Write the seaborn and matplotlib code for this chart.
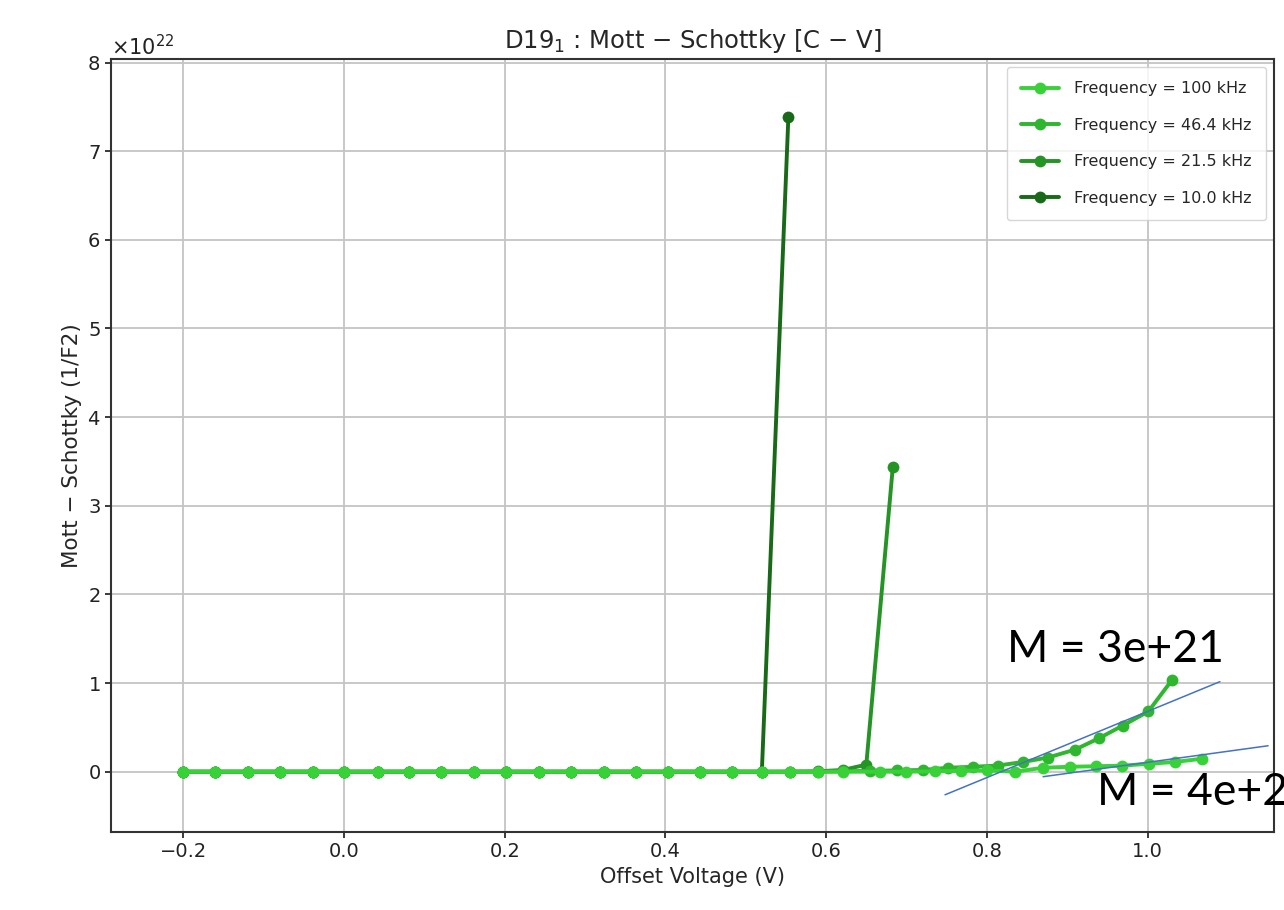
import numpy as np
import pandas as pd
import matplotlib
matplotlib.use('Agg')
import matplotlib.pyplot as plt
import seaborn as sns

# values, Mott-Schottky in units of 1e22 (1/F2)
SCALE = 1e22

v_base = [-0.2, -0.16, -0.119, -0.079, -0.039, 0.0, 0.042, 0.081, 0.121, 0.162,
          0.202, 0.243, 0.283, 0.323, 0.364, 0.403, 0.443, 0.483, 0.52]
ms_base = [0.0, 0.0, 0.0, 0.0, 0.0, 0.0, 0.0, 0.0, 0.0, 0.0,
           0.0, 0.0, 0.0, 0.0, 0.0, 0.0, 0.0, 0.0, 0.0]

v_100k = v_base + [0.555, 0.590, 0.621, 0.667, 0.700, 0.735, 0.768, 0.800,
                   0.835, 0.870, 0.904, 0.936, 0.968, 1.002, 1.034, 1.068]
ms_100k = ms_base + [0.0, 0.0, 0.0, 0.0, 0.0, 0.005, 0.01, 0.015,
                     0.0, 0.045, 0.056, 0.062, 0.068, 0.09, 0.11, 0.147]

v_46k = v_base + [0.555, 0.590, 0.621, 0.655, 0.688, 0.720, 0.752, 0.783,
                  0.814, 0.845, 0.876, 0.910, 0.940, 0.969, 1.001, 1.030]
ms_46k = ms_base + [0.0, 0.0, 0.005, 0.01, 0.015, 0.02, 0.045, 0.056,
                    0.07, 0.11, 0.16, 0.25, 0.38, 0.52, 0.68, 1.03]

v_21k = v_base + [0.555, 0.590, 0.621, 0.650, 0.683]
ms_21k = ms_base + [0.002, 0.005, 0.02, 0.08, 3.44]

v_10k = v_base + [0.553]
ms_10k = ms_base + [7.38]

labels = ['Frequency = 100 kHz', 'Frequency = 46.4 kHz',
          'Frequency = 21.5 kHz', 'Frequency = 10.0 kHz']
colors = ['#38d238', '#2eb62e', '#249424', '#186a18']

# hand-drawn slope lines (data coords) and their notes
fit_hi_v = [0.748, 1.090]
fit_hi_ms = [-0.26, 1.016]
fit_lo_v = [0.870, 1.150]
fit_lo_ms = [-0.056, 0.293]
notes = ['M = 3e+21', 'M = 4e+21']
note_v = [0.825, 0.937]
note_ms = [1.24, -0.37]

series = [(v_100k, ms_100k), (v_46k, ms_46k), (v_21k, ms_21k), (v_10k, ms_10k)]
frames = []
for lab, (v, ms) in zip(labels, series):
    frames.append(pd.DataFrame({'v': v, 'ms': np.array(ms) * SCALE, 'freq': lab}))
data = pd.concat(frames, ignore_index=True)

sns.set_theme(style='ticks')
plt.rcParams['font.family'] = ['DejaVu Sans']

fig = plt.figure(figsize=(12.84, 9.10), dpi=100)
ax = fig.add_axes([0.0864, 0.0857, 0.9056, 0.8495])

# lighter curves on top, legend keeps 100 kHz first
for i, lab in enumerate(labels):
    sub = data[data['freq'] == lab]
    sns.lineplot(data=sub, x='v', y='ms', ax=ax, color=colors[i], label=lab,
                 marker='o', markersize=8.5, markeredgewidth=0, linewidth=2.8,
                 sort=False, estimator=None, zorder=10 - i)

ax.plot(fit_hi_v, np.array(fit_hi_ms) * SCALE, color='#4472c4', lw=1.1, zorder=12)
ax.plot(fit_lo_v, np.array(fit_lo_ms) * SCALE, color='#4472c4', lw=1.1, zorder=12)
for t, x, y in zip(notes, note_v, note_ms):
    ax.text(x, y * SCALE, t, fontsize=32, family=['Lato', 'DejaVu Sans'],
            color='black', clip_on=False, zorder=13)

ax.set_xlim(-0.29, 1.157)
ax.set_ylim(-0.68 * SCALE, 8.04 * SCALE)
ax.set_xticks([-0.2, 0.0, 0.2, 0.4, 0.6, 0.8, 1.0])
ax.set_yticks(np.array([0, 1, 2, 3, 4, 5, 6, 7, 8]) * SCALE)
ax.ticklabel_format(axis='y', style='sci', scilimits=(0, 0), useMathText=True)
ax.yaxis.get_offset_text().set_fontsize(15)
ax.grid(True, color='#c4c4c4', linewidth=1.3)
ax.tick_params(labelsize=14, colors='#222222', length=4)
for s in ax.spines.values():
    s.set_color('#333333')
    s.set_linewidth(1.5)

ax.set_title('D19$_1$ : Mott − Schottky [C − V]', fontsize=17.5, pad=8)
ax.set_xlabel('Offset Voltage (V)', fontsize=15)
ax.set_ylabel('Mott − Schottky (1/F2)', fontsize=15.5)

leg = ax.legend(loc='upper right', fontsize=11.5, frameon=True, borderpad=0.9,
                labelspacing=1.35, handlelength=2.4, handletextpad=0.9)
leg.get_frame().set_edgecolor('#cccccc')

fig.savefig('out.png', dpi=100)
